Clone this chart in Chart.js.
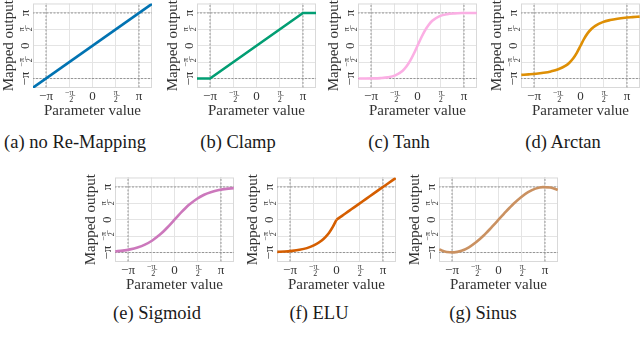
<!DOCTYPE html>
<html>
<head>
<meta charset="utf-8">
<script src="https://cdn.jsdelivr.net/npm/chart.js@4.4.0/dist/chart.umd.min.js"></script>
<style>
  body { margin: 0; width: 640px; height: 346px; overflow: hidden; background: #fff; position: relative; font-family: "Liberation Serif", serif; }
  canvas { position: absolute; }
  .cap { position: absolute; font-size: 18.5px; color: #1a1a1a; transform: translate(-50%, -50%); white-space: nowrap; }
</style>
</head>
<body>
<script>
const PI = Math.PI;

// sample positions along the parameter axis
const paramX = [-4, -3.5, -3, -2.5, -2, -1.5, -1, -0.75, -0.5, -0.25, 0, 0.25, 0.5, 0.75, 1, 1.5, 2, 2.5, 3, 3.5, 4];

const identityX = [-4.2, 4.2];
const identityY = [-4.2, 4.2];
const clampX = [-4.2, -3.14, 3.14, 4.2];
const clampY = [-3.14, -3.14, 3.14, 3.14];
const tanhY = [-3.14, -3.14, -3.13, -3.10, -3.03, -2.84, -2.39, -1.99, -1.45, -0.77, 0, 0.77, 1.45, 1.99, 2.39, 2.84, 3.03, 3.10, 3.13, 3.14, 3.14];
const arctanY = [-2.79, -2.74, -2.68, -2.59, -2.46, -2.26, -1.91, -1.63, -1.23, -0.68, 0, 0.68, 1.23, 1.63, 1.91, 2.26, 2.46, 2.59, 2.68, 2.74, 2.79];
const sigmoidY = [-3.03, -2.96, -2.84, -2.66, -2.39, -1.99, -1.45, -1.13, -0.77, -0.39, 0, 0.39, 0.77, 1.13, 1.45, 1.99, 2.39, 2.66, 2.84, 2.96, 3.03];
const eluY = [-3.08, -3.05, -2.98, -2.88, -2.72, -2.44, -1.99, -1.66, -1.24, -0.69, 0, 0.25, 0.5, 0.75, 1, 1.5, 2, 2.5, 3, 3.5, 4];
const sinusY = [-2.86, -3.09, -3.13, -2.98, -2.64, -2.14, -1.51, -1.15, -0.78, -0.39, 0, 0.39, 0.78, 1.15, 1.51, 2.14, 2.64, 2.98, 3.13, 3.09, 2.86];

// ticks and dotted guide lines at +-pi
const piTicks = [-PI, -PI / 2, 0, PI / 2, PI];
const tickLabels = ['\u2212\u03c0', ['\u2212\u03c0', '  2\u0305'], '0', ['\u03c0', '2\u0305'], '\u03c0'];
const guideAt = [-PI, PI];
const guideSpan = [-5, 5];

const panels = [
  { caption: '(a) no Re-Mapping', color: '#0173b2', xs: identityX, ys: identityY, left: 33, top: -1, capX: 75, capY: 142, straight: true },
  { caption: '(b) Clamp', color: '#029e73', xs: clampX, ys: clampY, left: 197, top: -1, capX: 238, capY: 142, straight: true },
  { caption: '(c) Tanh', color: '#fbafe4', xs: paramX, ys: tanhY, left: 358, top: -1, capX: 399, capY: 142 },
  { caption: '(d) Arctan', color: '#de8f05', xs: paramX, ys: arctanY, left: 521, top: -1, capX: 563, capY: 142 },
  { caption: '(e) Sigmoid', color: '#cc78bc', xs: paramX, ys: sigmoidY, left: 115, top: 173, capX: 157, capY: 313 },
  { caption: '(f) ELU', color: '#d55e00', xs: paramX, ys: eluY, left: 277, top: 173, capX: 319, capY: 313, kinkAt: 0 },
  { caption: '(g) Sinus', color: '#ca9161', xs: paramX, ys: sinusY, left: 439, top: 173, capX: 483, capY: 313 },
];

const AXIS_W = 33, AXIS_H = 32, PAD = 3, PLOT_W = 119, PLOT_H = 89;
const FONT = '"Liberation Serif", serif';
const TEXT = '#333';

const framePlugin = {
  id: 'frame',
  beforeDatasetsDraw(chart) {
    const { ctx, chartArea: a } = chart;
    ctx.save();
    ctx.strokeStyle = '#d9d9d9';
    ctx.lineWidth = 1;
    ctx.strokeRect(a.left + 0.5, a.top + 0.5, a.width - 1, a.height - 1);
    ctx.restore();
  }
};

function guideSets() {
  const sets = [];
  guideAt.forEach(g => {
    sets.push({ data: guideSpan.map(v => ({ x: g, y: v })) });
    sets.push({ data: guideSpan.map(v => ({ x: v, y: g })) });
  });
  return sets.map(s => Object.assign(s, {
    borderColor: '#8a8a8a', borderWidth: 0.9, borderDash: [2, 1.5], pointRadius: 0, order: 2
  }));
}

function curveSets(p) {
  const pts = p.xs.map((x, i) => ({ x: x, y: p.ys[i] }));
  const parts = p.kinkAt === undefined ? [pts]
    : [pts.filter(d => d.x <= p.kinkAt), pts.filter(d => d.x >= p.kinkAt)];
  return parts.map(data => ({
    data: data, borderColor: p.color, borderWidth: 2.6, pointRadius: 0,
    cubicInterpolationMode: p.straight ? 'default' : 'monotone', tension: 0, order: 1, clip: 0
  }));
}

function tickFont(c) {
  const frac = Array.isArray(tickLabels[c.index]);
  return { family: FONT, size: frac ? 8 : 13, lineHeight: frac ? 0.95 : 1.15 };
}

panels.forEach(p => {
  const canvas = document.createElement('canvas');
  canvas.width = AXIS_W + PLOT_W + PAD;
  canvas.height = PAD + PLOT_H + AXIS_H;
  canvas.style.left = (p.left - AXIS_W) + 'px';
  canvas.style.top = (p.top - PAD) + 'px';
  document.body.appendChild(canvas);

  const cap = document.createElement('div');
  cap.className = 'cap';
  cap.textContent = p.caption;
  cap.style.left = p.capX + 'px';
  cap.style.top = p.capY + 'px';
  document.body.appendChild(cap);

  new Chart(canvas.getContext('2d'), {
    type: 'line',
    data: { datasets: guideSets().concat(curveSets(p)) },
    options: {
      responsive: false,
      animation: false,
      layout: { padding: { left: 0, top: PAD, right: PAD, bottom: 0 } },
      plugins: { legend: { display: false }, tooltip: { enabled: false } },
      scales: {
        x: {
          type: 'linear', min: -4.02, max: 4.02,
          afterBuildTicks: s => { s.ticks = piTicks.map(v => ({ value: v })); },
          afterFit: s => { s.height = AXIS_H; },
          ticks: {
            callback: (v, i) => tickLabels[i], font: tickFont, color: TEXT,
            padding: 1, autoSkip: false, maxRotation: 0, minRotation: 0
          },
          grid: { color: '#e4e4e4', lineWidth: 1, drawTicks: false },
          border: { display: false },
          title: { display: true, text: 'Parameter value', color: TEXT, padding: 0,
                   font: { family: FONT, size: 15, lineHeight: 1.2 } }
        },
        y: {
          type: 'linear', min: -4.05, max: 4.05,
          afterBuildTicks: s => { s.ticks = piTicks.map(v => ({ value: v })); },
          afterFit: s => { s.width = AXIS_W; },
          ticks: {
            callback: (v, i) => tickLabels[i], font: tickFont, color: TEXT,
            padding: 0, autoSkip: false, minRotation: 90, maxRotation: 90, crossAlign: 'center'
          },
          grid: { color: '#e4e4e4', lineWidth: 1, drawTicks: false },
          border: { display: false },
          title: { display: true, text: 'Mapped output', color: TEXT, padding: 0,
                   font: { family: FONT, size: 15, lineHeight: 1.2 } }
        }
      }
    },
    plugins: [framePlugin]
  });
});
</script>
</body>
</html>
